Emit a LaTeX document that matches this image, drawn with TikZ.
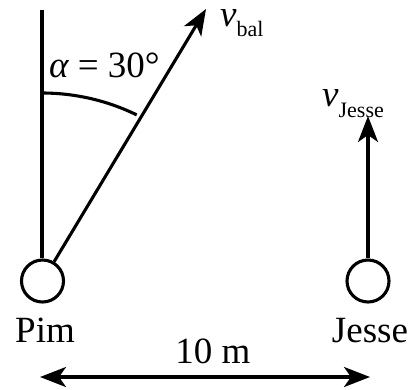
\documentclass[tikz,border=0pt]{standalone}
\usepackage{fontspec}
\setmainfont{Liberation Serif}
\usetikzlibrary{arrows.meta}
\begin{document}
\begin{tikzpicture}[x=1pt,y=-1pt,
  thick line/.style={line width=3.1pt},
  person/.style={circle,draw,line width=3.1pt,minimum size=42pt,inner sep=0pt},
  vec/.style={line width=3.1pt,-{Stealth[length=26pt,width=20pt,inset=7pt]}},
  dim/.style={line width=3.1pt,{Stealth[length=26pt,width=20pt,inset=7pt]}-{Stealth[length=26pt,width=20pt,inset=7pt]}},
  big/.style={font=\fontsize{37}{37}\selectfont,inner sep=0pt},
]
\useasboundingbox (0,0) rectangle (419,389);
% persons
\node[person] (pim) at (42.5,281) {};
\node[person] (jesse) at (368,281) {};
% vertical reference line
\coordinate (vtop) at (42,10);
\draw[thick line] (vtop) -- (vtop |- pim.north);
% ball velocity
\coordinate (balltip) at (206,9);
\draw[vec] (pim) -- (balltip);
% angle arc
\draw[thick line] (42,93) arc[start angle=-90,end angle=-64,radius=216];
% Jesse velocity
\coordinate (jessetip) at (368,116);
\draw[vec] (jesse.north) -- (jessetip);
% distance
\coordinate (dl) at (40,377);
\coordinate (dr) at (370,377);
\draw[dim] (dl) -- (dr);
% labels
\node[big,anchor=base] (lpim) at (45,342) {Pim};
\node[big,anchor=base] (ljesse) at (370,342) {Jesse};
\node[big,anchor=base] (ldist) at (213,363) {10 m};
\node[big,anchor=base west] (lalpha) at (49,77) {{\itshape α} = 30°};
\node[big,anchor=base west,text height=17pt] (lvbal) at (220,26) {{\itshape v}\raisebox{-10pt}{\fontsize{22}{22}\selectfont bal}};
\node[big,anchor=base west] (lvjesse) at (322,106) {{\itshape v}\raisebox{-11pt}{\fontsize{22}{22}\selectfont Jesse}};
\end{tikzpicture}
\end{document}
